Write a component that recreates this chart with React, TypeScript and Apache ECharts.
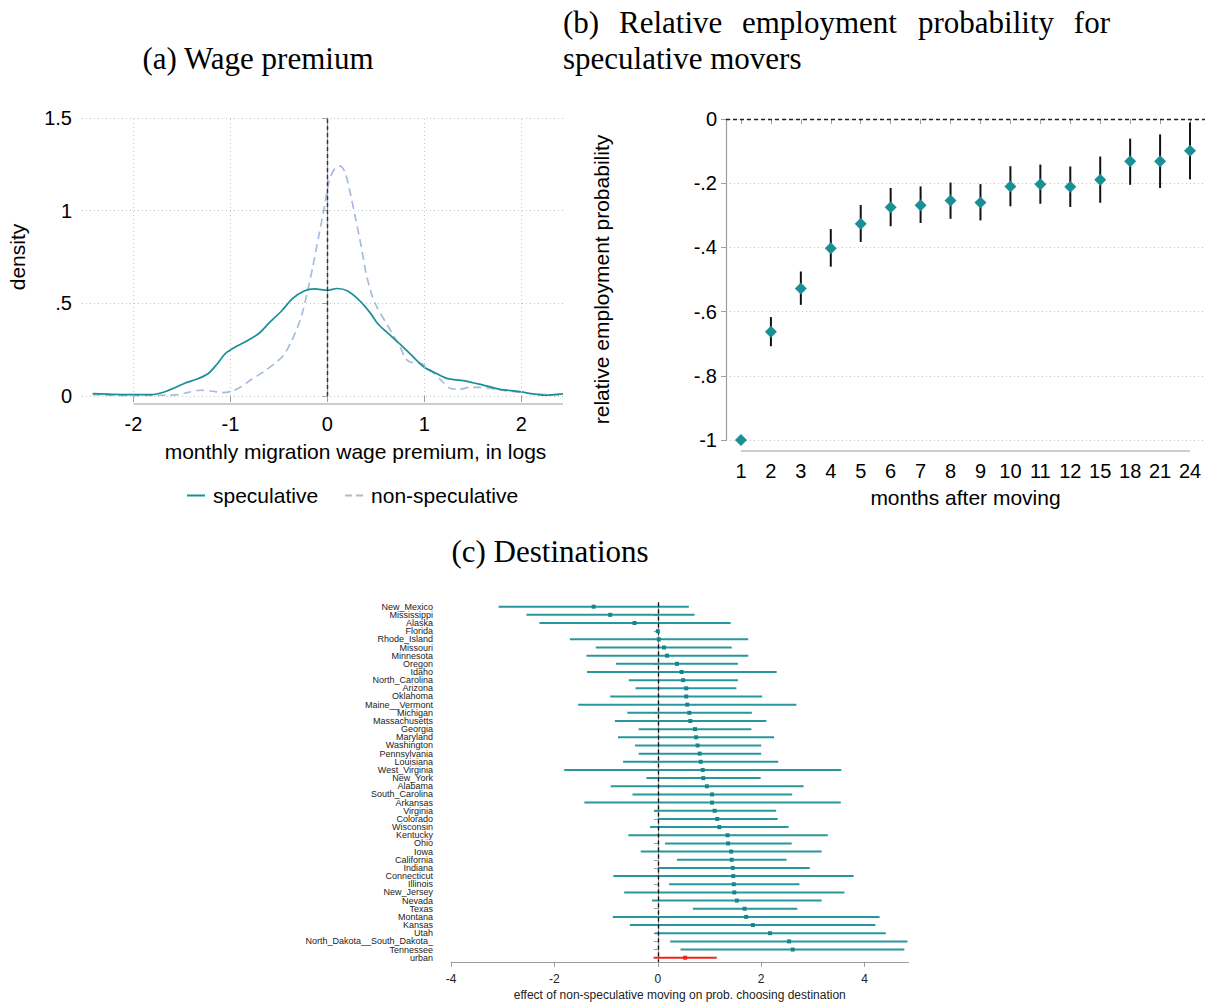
import React, { useEffect, useRef } from 'react';
import * as echarts from 'echarts';

// ---------- Panel (a): kernel densities ----------
const specX = [-2.42,-2.0,-1.81,-1.69,-1.58,-1.47,-1.35,-1.23,-1.14,-1.05,-0.93,-0.82,-0.70,-0.59,-0.47,-0.36,-0.24,-0.13,0,0.10,0.21,0.33,0.44,0.52,0.63,0.75,0.86,1.0,1.13,1.24,1.40,1.59,1.78,1.97,2.12,2.24,2.43];
const specY = [0.013,0.007,0.007,0.02,0.043,0.069,0.09,0.12,0.17,0.23,0.27,0.30,0.34,0.40,0.46,0.525,0.567,0.578,0.57,0.58,0.567,0.516,0.45,0.39,0.336,0.28,0.224,0.155,0.12,0.094,0.083,0.061,0.036,0.025,0.011,0.004,0.011];
const nonX = [-2.42,-2.0,-1.69,-1.54,-1.43,-1.31,-1.20,-1.08,-0.99,-0.89,-0.78,-0.66,-0.55,-0.45,-0.38,-0.32,-0.26,-0.21,-0.15,-0.09,-0.03,0.02,0.08,0.13,0.18,0.23,0.29,0.35,0.40,0.46,0.52,0.60,0.67,0.75,0.81,0.86,0.98,1.07,1.17,1.26,1.36,1.47,1.59,1.74,1.89,2.08,2.27,2.43];
const nonY = [0.007,0.002,0.004,0.007,0.02,0.031,0.027,0.018,0.025,0.05,0.09,0.13,0.173,0.22,0.285,0.354,0.444,0.552,0.697,0.86,1.02,1.166,1.23,1.242,1.21,1.11,0.96,0.805,0.66,0.543,0.47,0.40,0.336,0.264,0.20,0.182,0.173,0.137,0.087,0.043,0.036,0.047,0.047,0.036,0.025,0.014,0.007,0.005];
const aXTicks = [-2, -1, 0, 1, 2];
const aXGrid = [-2, -1, 1, 2];
const A_XMIN = -2.53;
const A_XMAX = 2.43;

// ---------- Panel (b): relative employment probability ----------
const months = ['1','2','3','4','5','6','7','8','9','10','11','12','15','18','21','24'];
const bEst = [-1.0,-0.663,-0.528,-0.403,-0.326,-0.275,-0.269,-0.254,-0.260,-0.210,-0.203,-0.211,-0.189,-0.132,-0.132,-0.099];
const bHi = [-1.0,-0.617,-0.475,-0.343,-0.268,-0.215,-0.210,-0.198,-0.203,-0.147,-0.142,-0.148,-0.117,-0.061,-0.048,-0.011];
const bLo = [-1.0,-0.708,-0.579,-0.460,-0.383,-0.334,-0.324,-0.311,-0.316,-0.272,-0.264,-0.274,-0.261,-0.205,-0.215,-0.188];

// ---------- Panel (c): destinations ----------
const states = ['New_Mexico','Mississippi','Alaska','Florida','Rhode_Island','Missouri','Minnesota','Oregon','Idaho','North_Carolina','Arizona','Oklahoma','Maine__Vermont','Michigan','Massachusetts','Georgia','Maryland','Washington','Pennsylvania','Louisiana','West_Virginia','New_York','Alabama','South_Carolina','Arkansas','Virginia','Colorado','Wisconsin','Kentucky','Ohio','Iowa','California','Indiana','Connecticut','Illinois','New_Jersey','Nevada','Texas','Montana','Kansas','Utah','North_Dakota__South_Dakota_','Tennessee','urban'];
const cEst = [-1.24,-0.92,-0.45,0,0.02,0.12,0.18,0.37,0.46,0.49,0.55,0.55,0.57,0.61,0.63,0.72,0.74,0.77,0.81,0.83,0.87,0.88,0.95,1.05,1.05,1.10,1.15,1.19,1.35,1.36,1.42,1.43,1.45,1.46,1.47,1.48,1.53,1.68,1.71,1.84,2.17,2.54,2.61,0.53];
const cLo = [-3.08,-2.54,-2.29,0,-1.70,-1.20,-1.38,-0.81,-1.37,-0.56,-0.43,-0.92,-1.54,-0.59,-0.83,-0.37,-0.77,-0.44,-0.37,-0.67,-1.81,-0.22,-0.91,-0.49,-1.42,-0.07,0.00,-0.15,-0.57,0.14,-0.33,0.37,0.00,-0.86,0.22,-0.65,-0.11,0.68,-0.87,-0.54,-0.06,0.24,0.44,-0.08];
const cHi = [0.60,0.71,1.41,0,1.75,1.43,1.75,1.55,2.30,1.55,1.52,2.02,2.68,1.82,2.10,1.81,2.25,2.00,2.00,2.33,3.55,1.99,2.82,2.60,3.54,2.29,2.32,2.53,3.29,2.59,3.17,2.49,2.94,3.79,2.74,3.61,3.17,2.70,4.29,4.21,4.41,4.83,4.77,1.14];
const cXTicks = [-4, -2, 0, 2, 4];
const HIGHLIGHT = 'urban';

const TEAL = '#1b8f96';
const TEAL_CI = '#28979d';
const LIGHTBLUE = '#a6bcdc';
const RED = '#f0241c';
const GRAY = '#9c9c9c';
const GRIDC = '#c4c4c4';
const SANS = '"Liberation Sans", Arial, sans-serif';
const SERIF = '"Liberation Serif", "Times New Roman", serif';
const DOTTED = { type: [1, 3], color: GRIDC, width: 1 };

const fmtDec = (v: number) => String(Math.round(v * 100) / 100).replace(/^0\./, '.').replace(/^-0\./, '-.');

function titleText(id: string, text: string, x: number, y: number, align: string) {
  return {
    type: 'text', id, x, y, silent: true,
    style: { text, font: `31px ${SERIF}`, fontSize: 31, fontFamily: SERIF, fill: '#000', textAlign: align, align, textVerticalAlign: 'middle', verticalAlign: 'middle' },
  };
}

const titles = [
  titleText('ta', '(a) Wage premium', 258, 58, 'center'),
  titleText('tb1', '(b)', 563, 22, 'left'),
  titleText('tb2', 'Relative', 619, 22, 'left'),
  titleText('tb3', 'employment', 742, 22, 'left'),
  titleText('tb4', 'probability', 918, 22, 'left'),
  titleText('tb5', 'for', 1110, 22, 'right'),
  titleText('tb6', 'speculative movers', 563, 58, 'left'),
  titleText('tc', '(c) Destinations', 550, 551, 'center'),
];

export default function App() {
  const ref = useRef<HTMLDivElement>(null);
  useEffect(() => {
    document.body.style.margin = '0';
    const chart = echarts.init(ref.current!, null, { renderer: 'svg' });
    const option: any = {
      animation: false,
      backgroundColor: '#fff',
      textStyle: { fontFamily: SANS },
      grid: [
        { left: 82, top: 118, width: 481, height: 278 },
        { left: 726, top: 119, width: 479, height: 321 },
        { left: 451, top: 602.6, width: 457.5, height: 359.2 },
      ],
      legend: {
        data: [
          { name: 'speculative', icon: 'path://M0 0H18V2H0Z' },
          { name: 'non-speculative', icon: 'path://M0 0H7V2H0Z M11 0H18V2H11Z' },
        ],
        left: 187, top: 485, padding: 0,
        itemWidth: 18, itemHeight: 2, itemGap: 27,
        textStyle: { fontSize: 21, color: '#000', fontFamily: SANS, padding: [0, 0, 0, 3] },
        selectedMode: false,
      },
      xAxis: [
        {
          gridIndex: 0, type: 'value', min: A_XMIN, max: A_XMAX, offset: 8,
          axisLine: { show: false },
          axisTick: { show: true, length: 6, customValues: aXTicks, lineStyle: { color: GRAY } },
          axisLabel: { customValues: aXTicks, fontSize: 20, color: '#000', margin: 10, fontFamily: SANS, formatter: (v: number) => String(v) },
          splitLine: { show: false },
          name: 'monthly migration wage premium, in logs', nameLocation: 'middle', nameGap: 37,
          nameTextStyle: { fontSize: 21, color: '#000', fontFamily: SANS, padding: [0, 0, 0, 66] },
        },
        {
          gridIndex: 1, type: 'category', data: months, boundaryGap: true, offset: 11,
          axisLine: { show: false },
          axisTick: { show: true, alignWithLabel: true, interval: 0, length: 5, lineStyle: { color: GRAY } },
          axisLabel: { interval: 0, fontSize: 20, color: '#000', margin: 10, fontFamily: SANS },
          splitLine: { show: false },
          name: 'months after moving', nameLocation: 'middle', nameGap: 36,
          nameTextStyle: { fontSize: 21, color: '#000', fontFamily: SANS },
        },
        {
          gridIndex: 2, type: 'value', min: -4, max: 4.85, interval: 2,
          axisLine: { show: true, lineStyle: { color: GRAY, width: 1.2 } },
          axisTick: { show: true, length: 5, customValues: cXTicks, lineStyle: { color: GRAY } },
          axisLabel: { customValues: cXTicks, fontSize: 12, color: '#222', margin: 11, fontFamily: SANS, formatter: (v: number) => String(v) },
          splitLine: { show: false },
          name: 'effect of non-speculative moving on prob. choosing destination', nameLocation: 'middle', nameGap: 27,
          nameTextStyle: { fontSize: 12, color: '#222', fontFamily: SANS },
        },
      ],
      yAxis: [
        {
          gridIndex: 0, type: 'value', min: 0, max: 1.5, interval: 0.5,
          axisLine: { show: true, lineStyle: { color: GRAY, width: 1.2 } },
          axisTick: { show: true, length: 5, lineStyle: { color: GRAY } },
          axisLabel: { fontSize: 20, color: '#000', margin: 10, fontFamily: SANS, formatter: fmtDec },
          splitLine: { show: true, lineStyle: DOTTED },
          name: 'density', nameLocation: 'middle', nameGap: 54,
          nameTextStyle: { fontSize: 21, color: '#000', fontFamily: SANS },
        },
        {
          gridIndex: 1, type: 'value', min: -1, max: 0, interval: 0.2,
          axisLine: { show: true, lineStyle: { color: GRAY, width: 1.2 } },
          axisTick: { show: true, length: 5, lineStyle: { color: GRAY } },
          axisLabel: { fontSize: 20, color: '#000', margin: 9, fontFamily: SANS, formatter: fmtDec },
          splitLine: { show: true, lineStyle: DOTTED },
          name: 'relative employment probability', nameLocation: 'middle', nameGap: 114,
          nameTextStyle: { fontSize: 21, color: '#000', fontFamily: SANS },
        },
        {
          gridIndex: 2, type: 'category', data: states, inverse: true, boundaryGap: true, offset: 11,
          axisLine: { show: true, lineStyle: { color: GRAY, width: 1.2 } },
          axisTick: { show: true, alignWithLabel: true, interval: 0, length: 4, lineStyle: { color: GRAY } },
          axisLabel: { interval: 0, fontSize: 9, color: '#222', margin: 7, fontFamily: SANS },
          splitLine: { show: false },
        },
      ],
      series: [
        {
          name: 'speculative', type: 'line', xAxisIndex: 0, yAxisIndex: 0,
          data: specX.map((x, i) => [x, specY[i]]),
          symbol: 'none', smooth: 0.25, z: 4,
          lineStyle: { color: TEAL, width: 1.7 }, itemStyle: { color: TEAL },
          markLine: {
            silent: true, symbol: 'none', label: { show: false },
            data: [
              ...aXGrid.map((v) => ({ xAxis: v, lineStyle: DOTTED })),
              { xAxis: 0, lineStyle: { type: [4, 3], color: '#333', width: 1.4 } },
            ],
          },
        },
        {
          name: 'non-speculative', type: 'line', xAxisIndex: 0, yAxisIndex: 0,
          data: nonX.map((x, i) => [x, nonY[i]]),
          symbol: 'none', smooth: 0.25, z: 3,
          lineStyle: { color: LIGHTBLUE, width: 1.7, type: [8, 5] }, itemStyle: { color: LIGHTBLUE },
        },
        {
          name: 'b-ci', type: 'custom', xAxisIndex: 1, yAxisIndex: 1,
          data: months.map((m, i) => [i, bLo[i], bHi[i]]),
          encode: { x: 0, y: [1, 2] },
          renderItem: (params: any, api: any) => {
            const p1 = api.coord([api.value(0), api.value(1)]);
            const p2 = api.coord([api.value(0), api.value(2)]);
            return { type: 'line', shape: { x1: p1[0], y1: p1[1], x2: p2[0], y2: p2[1] }, style: { stroke: '#111', lineWidth: 2 } };
          },
          z: 3,
        },
        {
          name: 'b-est', type: 'scatter', xAxisIndex: 1, yAxisIndex: 1,
          data: bEst.map((v, i) => [i, v]),
          symbol: 'diamond', symbolSize: 12, itemStyle: { color: TEAL, opacity: 1 }, z: 5,
          markLine: {
            silent: true, symbol: 'none', label: { show: false },
            data: [{ yAxis: 0 }],
            lineStyle: { type: [4, 3], color: '#222', width: 1.3 },
          },
        },
        {
          name: 'c-ci', type: 'custom', xAxisIndex: 2, yAxisIndex: 2,
          data: states.map((s, i) => [i, cLo[i], cHi[i]]),
          encode: { y: 0, x: [1, 2] },
          renderItem: (params: any, api: any) => {
            const idx = api.value(0);
            const p1 = api.coord([api.value(1), idx]);
            const p2 = api.coord([api.value(2), idx]);
            const col = states[params.dataIndex] === HIGHLIGHT ? RED : TEAL_CI;
            return { type: 'line', shape: { x1: p1[0], y1: p1[1], x2: p2[0], y2: p2[1] }, style: { stroke: col, lineWidth: 2 } };
          },
          z: 3,
        },
        {
          name: 'c-est', type: 'scatter', xAxisIndex: 2, yAxisIndex: 2,
          data: cEst.map((v, i) => [v, i]),
          symbol: 'rect', symbolSize: 4, z: 5,
          itemStyle: { color: (p: any) => (states[p.dataIndex] === HIGHLIGHT ? RED : '#17868c'), opacity: 1 },
          markLine: {
            silent: true, symbol: 'none', label: { show: false },
            data: [{ xAxis: 0 }],
            lineStyle: { type: [4, 3], color: '#111', width: 1.3 },
          },
        },
      ],
      graphic: titles,
    };
    chart.setOption(option);

    // Stata-style detached axis lines for panels (a) and (b), positioned through the axes' scales
    const ax0 = chart.convertToPixel({ xAxisIndex: 0 }, aXTicks[0]) as number;
    const ax1 = chart.convertToPixel({ xAxisIndex: 0 }, A_XMAX) as number;
    const ay = (chart.convertToPixel({ yAxisIndex: 0 }, 0) as number) + 8;
    const bx0 = chart.convertToPixel({ xAxisIndex: 1 }, months[0]) as number;
    const bx1 = chart.convertToPixel({ xAxisIndex: 1 }, months[months.length - 1]) as number;
    const by = (chart.convertToPixel({ yAxisIndex: 1 }, -1) as number) + 11;
    chart.setOption({
      graphic: [
        ...titles,
        { type: 'line', id: 'axA', silent: true, shape: { x1: ax0, y1: ay, x2: ax1, y2: ay }, style: { stroke: GRAY, lineWidth: 1.2 } },
        { type: 'line', id: 'axB', silent: true, shape: { x1: bx0, y1: by, x2: bx1, y2: by }, style: { stroke: GRAY, lineWidth: 1.2 } },
      ],
    });
    return () => chart.dispose();
  }, []);
  return <div ref={ref} style={{ width: 1212, height: 1004 }} />;
}
